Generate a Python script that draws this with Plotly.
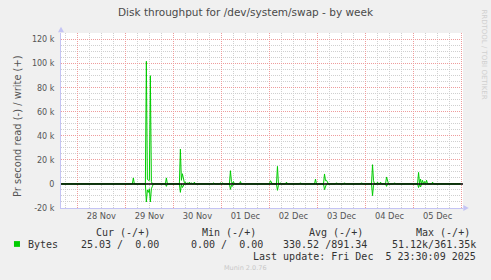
import plotly.graph_objects as go
import pandas as pd

# ---------------- data (bytes per second, 30-min averages) ----------------
write_times = [
    "2025-11-29 04:00", "2025-11-29 10:30", "2025-11-29 11:00", "2025-11-29 11:30",
    "2025-11-29 12:00", "2025-11-29 12:30", "2025-11-29 13:00", "2025-11-29 20:30",
    "2025-11-30 03:30", "2025-11-30 04:00", "2025-11-30 04:30", "2025-11-30 05:00",
    "2025-11-30 05:30", "2025-11-30 06:00", "2025-11-30 07:00", "2025-11-30 08:00",
    "2025-11-30 09:00", "2025-11-30 10:30", "2025-11-30 20:00", "2025-11-30 23:30",
    "2025-12-01 00:30", "2025-12-01 04:30", "2025-12-01 05:00", "2025-12-01 06:00",
    "2025-12-01 09:30", "2025-12-01 17:30", "2025-12-02 00:30", "2025-12-02 01:00",
    "2025-12-02 04:00", "2025-12-02 05:30", "2025-12-02 08:30", "2025-12-02 15:30",
    "2025-12-02 23:00", "2025-12-03 03:30", "2025-12-03 04:00", "2025-12-03 04:30",
    "2025-12-03 05:00", "2025-12-03 09:30", "2025-12-03 13:30", "2025-12-03 22:00",
    "2025-12-04 03:30", "2025-12-04 04:00", "2025-12-04 06:00", "2025-12-04 07:30",
    "2025-12-04 10:30", "2025-12-04 11:00", "2025-12-04 14:30", "2025-12-04 21:30",
    "2025-12-05 02:30", "2025-12-05 03:30", "2025-12-05 04:30", "2025-12-05 05:30",
    "2025-12-05 06:30", "2025-12-05 09:30",
]
write_vals = [
    5000, 102000, 4000, 3000,
    3000, 90000, 2000, 5000,
    29000, 3000, 8500, 3500,
    1000, 1500, 1000, 1500,
    1000, 1500, 800, 800,
    800, 11000, 2000, 2000,
    2000, 600, 2700, 1500,
    14600, 1000, 1500, 1000,
    4000, 8300, 2700, 3000,
    1500, 1000, 1000, 1000,
    16000, 2700, 1500, 1500,
    5800, 1500, 1000, 600,
    9600, 4000, 3000, 2000,
    3000, 1500,
]
read_times = [
    "2025-11-29 04:00", "2025-11-29 10:30", "2025-11-29 11:00", "2025-11-29 11:30",
    "2025-11-29 12:00", "2025-11-29 12:30", "2025-11-29 13:00", "2025-11-29 13:30",
    "2025-11-29 20:30", "2025-11-30 03:30", "2025-11-30 04:30", "2025-11-30 05:00",
    "2025-12-01 04:30", "2025-12-01 05:00", "2025-12-01 05:30", "2025-12-02 04:00",
    "2025-12-02 04:30", "2025-12-03 03:30", "2025-12-03 04:00", "2025-12-04 03:30",
    "2025-12-04 04:00", "2025-12-04 10:30", "2025-12-05 02:30", "2025-12-05 03:30",
]
read_vals = [
    600, 15000, 5000, 7000,
    4000, 15000, 4000, 2000,
    2000, 7000, 3000, 1000,
    4500, 1000, 2000, 5300,
    1000, 4700, 1500, 9700,
    1000, 2000, 3000, 2500,
]

series_start = "2025-11-27 16:00"
series_end = "2025-12-05 23:30"

y_tick_vals = [-20000, 0, 20000, 40000, 60000, 80000, 100000, 120000]
y_tick_text = ["-20 k", "0", "20 k", "40 k", "60 k", "80 k", "100 k", "120 k"]

title_text = "Disk throughput for /dev/system/swap - by week"
y_title = "Pr second read (-) / write (+)"
legend_headers = ["Cur (-/+)", "Min (-/+)", "Avg (-/+)", "Max (-/+)"]
legend_values = ["25.03 /\u00a0\u00a00.00", "0.00 /\u00a0\u00a00.00", "330.52 /891.34", "51.12k/361.35k"]
legend_name = "Bytes"
last_update = "Last update: Fri Dec\u00a0\u00a05 23:30:09 2025"
footer = "Munin 2.0.76"
side_text = "RRDTOOL / TOBI OETIKER"

# ---------------- build series ----------------
idx = pd.date_range(series_start, series_end, freq="30min")
write = pd.Series(0.0, index=idx)
for t, v in zip(write_times, write_vals):
    write[pd.Timestamp(t)] = v
read = pd.Series(0.0, index=idx)
for t, v in zip(read_times, read_vals):
    read[pd.Timestamp(t)] = -v

# ---------------- layout geometry ----------------
W, H = 491, 280
L, R, T, B = 61, 462.7, 32.7, 208.3
PW, PH = R - L, B - T


def px(x):
    return (x - L) / PW


def py(y):
    return (B - y) / PH


GREEN = "#00CC00"
fig = go.Figure()
fig.add_trace(go.Scatter(x=write.index, y=write.values, mode="lines",
                         line=dict(color=GREEN, width=1), showlegend=False,
                         hoverinfo="skip"))
fig.add_trace(go.Scatter(x=read.index, y=read.values, mode="lines",
                         line=dict(color=GREEN, width=1), showlegend=False,
                         hoverinfo="skip"))

MAJ = "#EE9C9C"
MIN = "#CFCFCF"
AX = "#C4C4F4"
TXT = "#555555"

fig.update_layout(
    width=W, height=H,
    margin=dict(l=L, r=W - R, t=T, b=H - B, pad=0),
    paper_bgcolor="#F0F0F0", plot_bgcolor="#FFFFFF",
    showlegend=False,
    font=dict(family="DejaVu Sans", size=8, color=TXT),
    xaxis=dict(
        type="date",
        range=["2025-11-27 15:51", "2025-12-06 00:42"],
        tick0="2025-11-28 00:00", dtick=86400000,
        ticklabelmode="period", tickformat="%d %b",
        showgrid=True, gridcolor=MAJ, griddash="1px,1px", gridwidth=1,
        minor=dict(dtick=21600000, tick0="2025-11-28 00:00", showgrid=True,
                   gridcolor=MIN, griddash="1px,1px", gridwidth=1),
        showline=True, linecolor=AX, linewidth=1,
        ticks="", zeroline=False, fixedrange=True,
        tickfont=dict(family="DejaVu Sans", size=8.3, color=TXT),
    ),
    yaxis=dict(
        range=[-20000, 125500],
        tickvals=y_tick_vals, ticktext=y_tick_text,
        showgrid=True, gridcolor=MAJ, griddash="1px,1px", gridwidth=1,
        minor=dict(dtick=5000, tick0=0, showgrid=True,
                   gridcolor=MIN, griddash="1px,1px", gridwidth=1),
        showline=True, linecolor=AX, linewidth=1,
        ticks="outside", ticklen=4, tickcolor="rgba(0,0,0,0)",
        zeroline=False, fixedrange=True,
        tickfont=dict(family="DejaVu Sans", size=8, color=TXT),
    ),
)

shapes = []
# zero rule
shapes.append(dict(type="line", xref="paper", yref="y", x0=0, x1=1, y0=0, y1=0,
                   line=dict(color="black", width=1.5), layer="above"))
# axis arrows
shapes.append(dict(type="path", xref="paper", yref="paper",
                   path=f"M {px(58)} {py(32)} L {px(64)} {py(32)} L {px(61)} {py(26.5)} Z",
                   fillcolor=AX, line=dict(width=0), layer="above"))
shapes.append(dict(type="path", xref="paper", yref="paper",
                   path=f"M {px(463)} {py(205.3)} L {px(463)} {py(211.3)} L {px(468.5)} {py(208.3)} Z",
                   fillcolor=AX, line=dict(width=0), layer="above"))
# legend colour swatch
shapes.append(dict(type="rect", xref="paper", yref="paper",
                   x0=px(14), x1=px(20), y0=py(247.3), y1=py(241.5),
                   fillcolor=GREEN, line=dict(width=0)))
fig.update_layout(shapes=shapes)

ann = []
ann.append(dict(text=title_text, x=px(245.7), y=py(11.5), xref="paper", yref="paper",
                showarrow=False, xanchor="center", yanchor="middle",
                font=dict(family="DejaVu Sans", size=10.5, color="#4A4A4A")))
ann.append(dict(text=y_title, x=px(18), y=py(126), xref="paper", yref="paper",
                showarrow=False, textangle=-90, xanchor="center", yanchor="middle",
                font=dict(family="DejaVu Sans", size=9.9, color=TXT)))
ann.append(dict(text=side_text, x=px(483.5), y=py(54), xref="paper", yref="paper",
                showarrow=False, textangle=90, xanchor="center", yanchor="middle",
                font=dict(family="DejaVu Sans", size=7, color="#CFCFCF")))
MONO = dict(family="DejaVu Sans Mono", size=10, color="#333333")
header_right = [150.5, 257, 363.5, 471]
value_right = [159.5, 264.3, 367.5, 477]
for txt, xr in zip(legend_headers, header_right):
    ann.append(dict(text=txt, x=px(xr), y=py(233), xref="paper", yref="paper",
                    showarrow=False, xanchor="right", yanchor="middle", borderpad=0,
                    font=MONO))
for txt, xr in zip(legend_values, value_right):
    ann.append(dict(text=txt, x=px(xr), y=py(244.5), xref="paper", yref="paper",
                    showarrow=False, xanchor="right", yanchor="middle", borderpad=0,
                    font=MONO))
ann.append(dict(text=legend_name, x=px(26.7), y=py(244.5), xref="paper", yref="paper",
                showarrow=False, xanchor="left", yanchor="middle", borderpad=0, font=MONO))
ann.append(dict(text=last_update, x=px(477), y=py(256.7), xref="paper", yref="paper",
                showarrow=False, xanchor="right", yanchor="middle", borderpad=0, font=MONO))
ann.append(dict(text=footer, x=px(245), y=py(268.5), xref="paper", yref="paper",
                showarrow=False, xanchor="center", yanchor="middle",
                font=dict(family="DejaVu Sans", size=6.5, color="#C8C8C8")))
fig.update_layout(annotations=ann)

fig.write_html("out.html", config={"displayModeBar": False})
